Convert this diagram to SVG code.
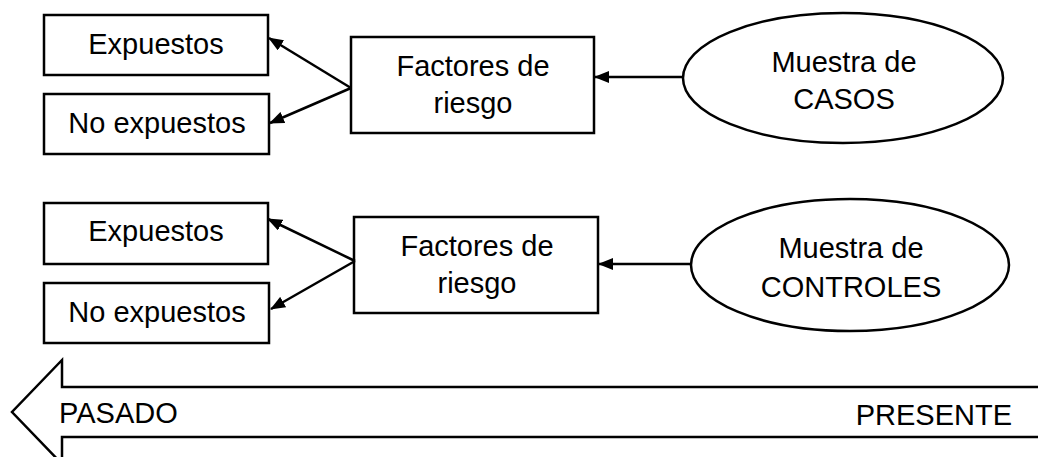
<svg xmlns="http://www.w3.org/2000/svg" width="1038" height="457" viewBox="0 0 1038 457">
  <style>
    .box { fill: #fff; stroke: #000; stroke-width: 2.5; }
    .link { fill: none; stroke: #000; stroke-width: 2.5; marker-end: url(#head); }
    text { font-family: "Liberation Sans", Arial, sans-serif; font-size: 29px; fill: #000; text-anchor: middle; }
  </style>
  <defs>
    <marker id="head" viewBox="0 0 15 12" refX="14" refY="6" markerWidth="15" markerHeight="12" markerUnits="userSpaceOnUse" orient="auto">
      <path d="M0,0 L15,6 L0,12 Z" fill="#000"/>
    </marker>
  </defs>

  <rect width="1038" height="457" fill="#fff"/>

  <!-- top row: cases -->
  <g id="expuestos-casos">
    <rect class="box" x="44" y="15" width="224" height="60"/>
    <text x="156" y="54">Expuestos</text>
  </g>
  <g id="no-expuestos-casos">
    <rect class="box" x="44" y="94" width="225" height="60"/>
    <text x="157" y="133">No expuestos</text>
  </g>
  <g id="factores-casos">
    <rect class="box" x="351" y="37" width="243" height="96"/>
    <text x="473" y="76">Factores de</text>
    <text x="473" y="113">riesgo</text>
  </g>
  <g id="muestra-casos">
    <ellipse class="box" cx="843" cy="78" rx="160" ry="65"/>
    <text x="844" y="72">Muestra de</text>
    <text x="844" y="109">CASOS</text>
  </g>

  <!-- bottom row: controls -->
  <g id="expuestos-controles">
    <rect class="box" x="44" y="203" width="224" height="61"/>
    <text x="156" y="241">Expuestos</text>
  </g>
  <g id="no-expuestos-controles">
    <rect class="box" x="44" y="283" width="225" height="60"/>
    <text x="157" y="322">No expuestos</text>
  </g>
  <g id="factores-controles">
    <rect class="box" x="354" y="217" width="244" height="96"/>
    <text x="477" y="256">Factores de</text>
    <text x="477" y="293">riesgo</text>
  </g>
  <g id="muestra-controles">
    <ellipse class="box" cx="850" cy="265" rx="159" ry="66"/>
    <text x="851" y="258">Muestra de</text>
    <text x="851" y="297">CONTROLES</text>
  </g>

  <!-- connectors -->
  <g id="connectors">
    <line class="link" x1="683" y1="77" x2="595" y2="77"/>
    <line class="link" x1="351" y1="88" x2="269" y2="38"/>
    <line class="link" x1="351" y1="88" x2="270" y2="123"/>
    <line class="link" x1="691" y1="264" x2="599" y2="264"/>
    <line class="link" x1="355" y1="261" x2="268" y2="219"/>
    <line class="link" x1="355" y1="261" x2="271" y2="309"/>
  </g>

  <!-- time arrow pointing to the past -->
  <g id="timeline">
    <path d="M1040,387 L62,387 L62,360 L12,412 L62,464 L62,437 L1040,437" fill="#fff" stroke="#000" stroke-width="2.5"/>
    <text x="59" y="423" style="text-anchor:start">PASADO</text>
    <text x="1012" y="425" style="text-anchor:end">PRESENTE</text>
  </g>
</svg>
